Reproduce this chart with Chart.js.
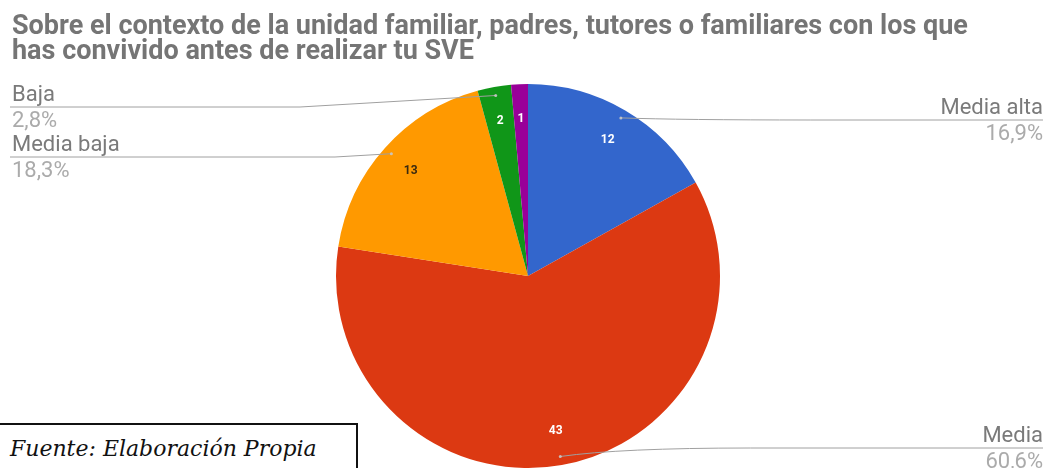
<!DOCTYPE html>
<html>
<head>
<meta charset="utf-8">
<script src="https://cdn.jsdelivr.net/npm/chart.js@4"></script>
<style>
  html, body { margin: 0; padding: 0; background: #fff; }
  #wrap { position: relative; width: 1048px; height: 468px; overflow: hidden; }
  #titulo {
    position: absolute; left: 12px; top: 13px; margin: 0;
    font: bold 27px Roboto, sans-serif; line-height: 25px; color: #757575;
    white-space: nowrap;
  }
  #fuente {
    position: absolute; left: -2px; top: 423px; width: 360px; height: 70px;
    border: 2px solid #111; box-sizing: border-box; background: #fff;
    font: italic 22px "DejaVu Serif", serif; color: #111;
    white-space: nowrap;
  }
  #fuente span { position: absolute; left: 10px; top: 11px; }
</style>
</head>
<body>
<div id="wrap">
  <canvas id="grafico" width="1048" height="468"></canvas>
  <h1 id="titulo">Sobre el contexto de la unidad familiar, padres, tutores o familiares con los que<br>has convivido antes de realizar tu SVE</h1>
  <div id="fuente"><span>Fuente: Elaboración Propia</span></div>
</div>
<script>
// categorias y respuestas
const categorias = ["Media alta", "Media", "Media baja", "Baja", "Alta"];
const respuestas = [12, 43, 13, 2, 1];
const porcentajes = ["16,9%", "60,6%", "18,3%", "2,8%", "1,4%"];
const colores = ["#3366cc", "#dc3912", "#ff9900", "#109618", "#990099"];

// donde va cada etiqueta exterior (null = sin etiqueta)
const llamadas = [
  { lado: "der", y: 120 },
  { lado: "der", y: 448 },
  { lado: "izq", y: 157, codo: 335 },
  { lado: "izq", y: 107, codo: 300 },
  null
];

function puntoEn(arc, frac) {
  const p = arc.getProps(["x", "y", "startAngle", "endAngle", "outerRadius"], true);
  const a = (p.startAngle + p.endAngle) / 2;
  const r = p.outerRadius * frac;
  return { x: p.x + Math.cos(a) * r, y: p.y + Math.sin(a) * r };
}

// numeros dentro de cada porcion
const numerosPlugin = {
  id: "numeros",
  afterDatasetsDraw(chart) {
    const ctx = chart.ctx;
    const meta = chart.getDatasetMeta(0);
    ctx.save();
    ctx.font = "bold 12px Roboto, sans-serif";
    ctx.textAlign = "center";
    ctx.textBaseline = "middle";
    meta.data.forEach((arc, i) => {
      const pt = puntoEn(arc, 0.82);
      ctx.fillStyle = i === 2 ? "#3a2a10" : "#ffffff";
      ctx.fillText(String(respuestas[i]), pt.x, pt.y);
    });
    ctx.restore();
  }
};

// lineas y textos de categoria / porcentaje
const llamadasPlugin = {
  id: "llamadas",
  afterDraw(chart) {
    const ctx = chart.ctx;
    const meta = chart.getDatasetMeta(0);
    const der = chart.width - 5, izq = 12;
    ctx.save();
    meta.data.forEach((arc, i) => {
      const ll = llamadas[i];
      if (!ll) return;
      const pt = puntoEn(arc, 0.955);
      ctx.strokeStyle = "#a0a0a0";
      ctx.lineWidth = 1;
      ctx.beginPath();
      ctx.moveTo(pt.x, pt.y);
      if (ll.lado === "der") {
        const codo = pt.x + 190;
        if (Math.abs(pt.y - ll.y) > 2) {
          ctx.quadraticCurveTo(pt.x + 60, ll.y, codo, ll.y);
        }
        ctx.lineTo(der, ll.y);
      } else {
        ctx.lineTo(ll.codo, ll.y);
        ctx.lineTo(izq - 2, ll.y);
      }
      ctx.stroke();

      // punto del extremo
      ctx.fillStyle = "rgba(200,200,200,0.9)";
      ctx.beginPath();
      ctx.arc(pt.x, pt.y, 1.5, 0, Math.PI * 2);
      ctx.fill();

      ctx.textBaseline = "alphabetic";
      ctx.textAlign = ll.lado === "der" ? "right" : "left";
      const tx = ll.lado === "der" ? der : izq;
      ctx.font = "22px Roboto, sans-serif";
      ctx.fillStyle = "#7a7a7a";
      ctx.fillText(categorias[i], tx, ll.y - 6);
      ctx.fillStyle = "#ababab";
      ctx.fillText(porcentajes[i], tx, ll.y + 20);
    });
    ctx.restore();
  }
};

new Chart(document.getElementById("grafico"), {
  type: "pie",
  data: {
    labels: categorias,
    datasets: [{
      data: respuestas,
      backgroundColor: colores,
      borderWidth: 0
    }]
  },
  options: {
    responsive: false,
    animation: false,
    layout: { padding: { top: 84, bottom: 0, left: 8, right: 0 } },
    plugins: {
      legend: { display: false },
      tooltip: { enabled: false }
    }
  },
  plugins: [numerosPlugin, llamadasPlugin]
});
</script>
</body>
</html>
